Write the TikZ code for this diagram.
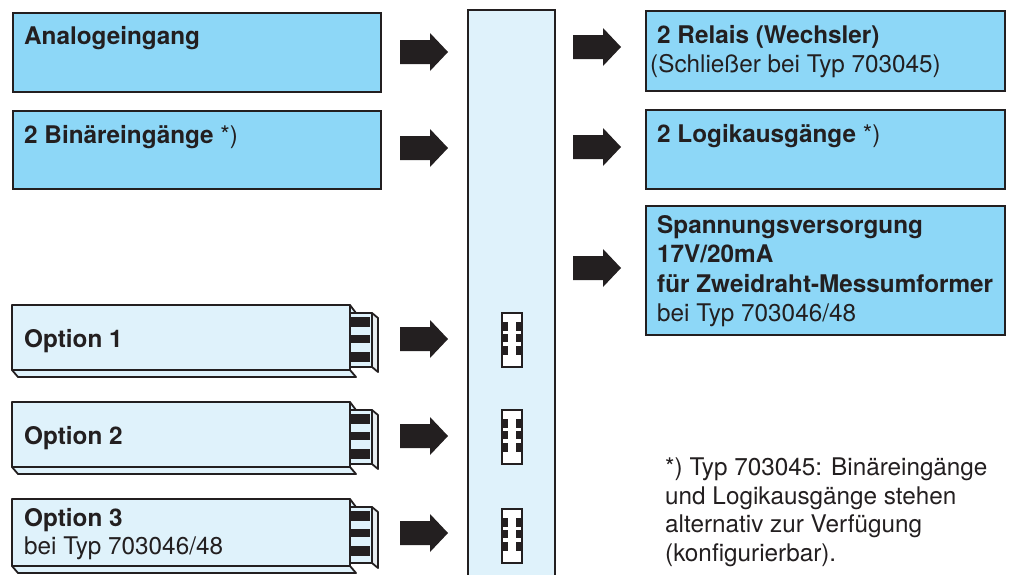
\documentclass[tikz,border=0pt]{standalone}
\usepackage{fontspec}
\setmainfont{TeX Gyre Heros}
\definecolor{dblue}{HTML}{8DD7F7}
\definecolor{lblue}{HTML}{DFF2FB}
\definecolor{ink}{HTML}{231F20}
\tikzset{
  box/.style={draw=ink, line width=2.2pt, fill=dblue, inner sep=0pt, anchor=north west},
  txt/.style={anchor=base west, inner sep=0pt, text=ink, font=\fontsize{24.3}{29}\selectfont},
  card/.style={draw=ink, line width=1.8pt, fill=lblue, line join=round},
}
\newcommand{\blockarr}[3]{% name, x, y
  \coordinate (#1) at (#2,#3);
  \fill[ink] (#2,#3-12) -- (#2+30,#3-12) -- (#2+30,#3-19) -- (#2+48,#3) -- (#2+30,#3+19) -- (#2+30,#3+12) -- (#2,#3+12) -- cycle;
}
\newcommand{\optcard}[3]{% name, top, bottom
  \coordinate (#1) at (12,#2);
  \draw[card] (12,#3) -- (18,#3+7) -- (356,#3+7) -- (350,#3) -- cycle;
  \draw[card] (12,#2) rectangle (350,#3);
  \draw[card] (350,#2) -- (356,#2+8) -- (350,#2+8) -- cycle;
  \draw[card, fill=lblue!70!gray!40] (372,#2+8) -- (378,#2+13) -- (378,#3+2) -- (372,#3-3) -- cycle;
  \draw[card] (350,#2+8) rectangle (372,#3-3);
  \fill[ink] (350,#2+12) rectangle (370,#2+22);
  \fill[ink] (350,#2+30) rectangle (370,#2+38);
  \fill[ink] (350,#2+47) rectangle (370,#2+57);
}
\newcommand{\slot}[2]{% name, centre y
  \coordinate (#1) at (512,#2);
  \draw[draw=ink, line width=2pt, fill=white] (502,#2-27) rectangle (522,#2+27);
  \foreach \a/\b in {-18/-9,-6/2,6/15}{
    \fill[ink] (502,#2+\a) rectangle (508,#2+\b);
    \fill[ink] (516,#2+\a) rectangle (522,#2+\b);
  }
}
\begin{document}
\begin{tikzpicture}[x=1pt, y=-1pt]
\useasboundingbox (0,0) rectangle (1012,574);
% central bar
\fill[lblue] (468,10) rectangle (555,576);
\draw[ink, line width=2.2pt] (468,576) -- (468,10) -- (555,10) -- (555,576);
\coordinate (bar) at (511,10);
% input boxes
\node[box, minimum width=368pt, minimum height=79pt] (ana) at (12,12) {};
\node[box, minimum width=368pt, minimum height=78pt] (bin) at (12,110) {};
\node[txt] (tana) at (24,44) {\textbf{Analogeingang}};
\node[txt] (tbin) at (24,143) {\textbf{2 Binäreingänge} *)};
% output boxes
\node[box, minimum width=359pt, minimum height=80pt] (rel) at (645,10) {};
\node[box, minimum width=359pt, minimum height=79pt] (log) at (645,109) {};
\node[box, minimum width=359pt, minimum height=129pt] (spg) at (645,205) {};
\node[txt] (trel1) at (657,43) {\textbf{2 Relais (Wechsler)}};
\node[txt] (trel2) at (650,72) {(Schließer bei Typ 703045)};
\node[txt] (tlog) at (657,142) {\textbf{2 Logikausgänge} *)};
\node[txt] (tspg1) at (657,233) {\textbf{Spannungsversorgung}};
\node[txt] (tspg2) at (657,262) {\textbf{17V/20mA}};
\node[txt] (tspg3) at (657,292) {\textbf{für Zweidraht-Messumformer}};
\node[txt] (tspg4) at (657,321) {bei Typ 703046/48};
% option cards
\optcard{opt1}{305}{370}
\optcard{opt2}{402}{467}
\optcard{opt3}{499}{566}
\node[txt] (topt1) at (24,347) {\textbf{Option 1}};
\node[txt] (topt2) at (24,444) {\textbf{Option 2}};
\node[txt] (topt3a) at (24,526) {\textbf{Option 3}};
\node[txt] (topt3b) at (24,554) {bei Typ 703046/48};
% slots
\slot{s1}{340}
\slot{s2}{437}
\slot{s3}{536}
% arrows
\blockarr{a1}{400}{52}
\blockarr{a2}{400}{148}
\blockarr{a3}{400}{339}
\blockarr{a4}{400}{436}
\blockarr{a5}{400}{533}
\blockarr{b1}{573}{47}
\blockarr{b2}{573}{147}
\blockarr{b3}{573}{268}
% footnote
\node[txt] (f1) at (665,475) {*) Typ 703045: Binäreingänge};
\node[txt] (f2) at (665,504) {und Logikausgänge stehen};
\node[txt] (f3) at (665,532) {alternativ zur Verfügung};
\node[txt] (f4) at (665,561) {(konfigurierbar).};
\end{tikzpicture}
\end{document}
